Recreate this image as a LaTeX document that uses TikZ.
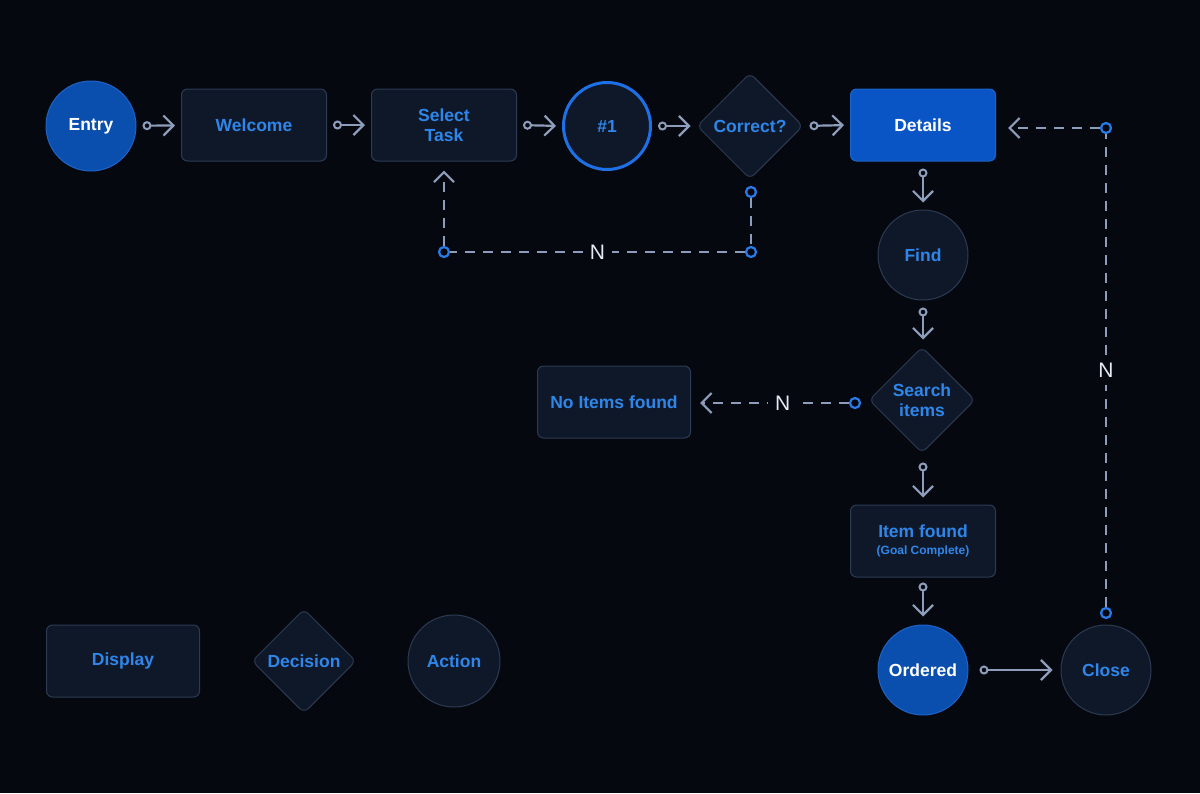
\documentclass[tikz,border=0pt]{standalone}
\usepackage{fontspec}
\setmainfont{Liberation Sans}
\usetikzlibrary{arrows.meta,shapes.geometric}
\definecolor{bg}{HTML}{05080F}
\definecolor{boxfill}{HTML}{0F1829}
\definecolor{boxline}{HTML}{2C3A52}
\definecolor{tblue}{HTML}{2F86EA}
\definecolor{bfill}{HTML}{0A4EAE}
\definecolor{bline}{HTML}{1D64C8}
\definecolor{dfill}{HTML}{0A55C6}
\definecolor{ring}{HTML}{1E70E6}
\definecolor{agray}{HTML}{8E9DBB}
\definecolor{dotblue}{HTML}{2A7BEA}
\definecolor{nwhite}{HTML}{E6EAF2}
\tikzset{
  lbl/.style={font=\bfseries\fontsize{17.5}{20}\selectfont, align=center},
  disp/.style={lbl, draw=boxline, fill=boxfill, rounded corners=6pt, minimum width=145pt, minimum height=72pt, line width=1pt, text=tblue},
  act/.style={lbl, circle, draw=boxline, fill=boxfill, minimum size=90pt, inner sep=0pt, line width=1pt, text=tblue},
  dec/.style={lbl, diamond, draw=boxline, fill=boxfill, minimum width=106pt, minimum height=106pt, inner sep=0pt, rounded corners=6pt, line width=1pt, text=tblue},
  bact/.style={act, fill=bfill, draw=bline, text=white},
  flow/.style={line width=2.2pt, draw=agray, {Circle[open,length=9pt,width=9pt,line width=2pt]}-{Straight Barb[length=10pt,width=20pt,line width=2.2pt]}},
  dashflow/.style={line width=2.2pt, draw=agray, dash pattern=on 10pt off 8pt},
  dashtip/.style={dashflow, -{Straight Barb[length=10pt,width=20pt,line width=2.2pt]}},
  dotc/.style={circle, draw=dotblue, line width=2.2pt, minimum size=10pt, inner sep=0pt, fill=bg},
  nlab/.style={font=\fontsize{21}{24}\selectfont, text=nwhite, fill=bg, inner sep=7pt}
}
\begin{document}
\begin{tikzpicture}[x=1pt,y=-1pt]
\fill[bg] (0,0) rectangle (1200,793);
\useasboundingbox (0,0) rectangle (1200,793);

% nodes
\node[bact] (entry) at (91,126) {Entry};
\node[disp] (welcome) at (254,125) {Welcome};
\node[disp] (select) at (444,125) {Select\\Task};
\node[act, draw=ring, line width=3pt, minimum size=87pt] (one) at (607,126) {\#1};
\node[dec] (correct) at (750,126) {Correct?};
\node[disp, fill=dfill, draw=bline, text=white] (details) at (923,125) {Details};
\node[act] (find) at (923,255) {Find};
\node[dec] (search) at (922,400) {Search\\items};
\node[disp, minimum width=153pt] (noitems) at (614,402) {No Items found};
\node[disp] (itemfound) at (923,541) {Item found\\[-3pt]{\fontsize{12}{13}\selectfont (Goal Complete)}};
\node[bact] (ordered) at (923,670) {Ordered};
\node[act] (close) at (1106,670) {Close};

% legend
\node[disp, minimum width=153pt] (display) at (123,661) {Display};
\node[dec, minimum width=104pt, minimum height=104pt] (decision) at (304,661) {Decision};
\node[act, minimum size=92pt] (action) at (454,661) {Action};

% solid connectors
\draw[flow, shorten <=6pt, shorten >=6pt] (entry) -- (welcome);
\draw[flow, shorten <=6pt, shorten >=6pt] (welcome) -- (select);
\draw[flow, shorten <=6pt, shorten >=6pt] (select.east) -- (one.west);
\draw[flow, shorten <=6pt, shorten >=6pt] (one.east) -- (correct.east -| correct.west);
\draw[flow, shorten <=6pt, shorten >=6pt] (correct.east) -- (details.west);
\draw[flow, shorten <=7pt, shorten >=7pt] (details) -- (find);
\draw[flow, shorten <=7pt, shorten >=7pt] (find) -- (search.north -| find.south);
\draw[flow, shorten <=9pt, shorten >=7pt] (search.south -| itemfound.north) -- (itemfound.north);
\draw[flow, shorten <=5pt, shorten >=8pt] (itemfound) -- (ordered);
\draw[flow, shorten <=11pt, shorten >=8pt] (ordered) -- (close);

% dashed: Correct? -> Select Task
\node[dotc] (c1) at (751,192) {};
\node[dotc] (c2) at (751,252) {};
\node[dotc] (c3) at (444,252) {};
\draw[dashflow] (c1) -- (c2);
\draw[dashflow] (c2) -- node[nlab] {N} (c3);
\draw[dashtip, shorten >=9pt] (c3) -- (select);

% dashed: Search items -> No Items found
\node[dotc] (s1) at (855,403) {};
\draw[dashtip, shorten >=9pt] (s1) -- node[nlab, pos=0.42] {N} (noitems.east |- s1);

% dashed: Close -> Details
\node[dotc] (k1) at (1106,613) {};
\node[dotc] (k2) at (1106,128) {};
\draw[dashflow] (k1) -- node[nlab, pos=0.5] {N} (k2);
\draw[dashtip, shorten >=12pt] (k2) -- (details.east |- k2);
\end{tikzpicture}
\end{document}
